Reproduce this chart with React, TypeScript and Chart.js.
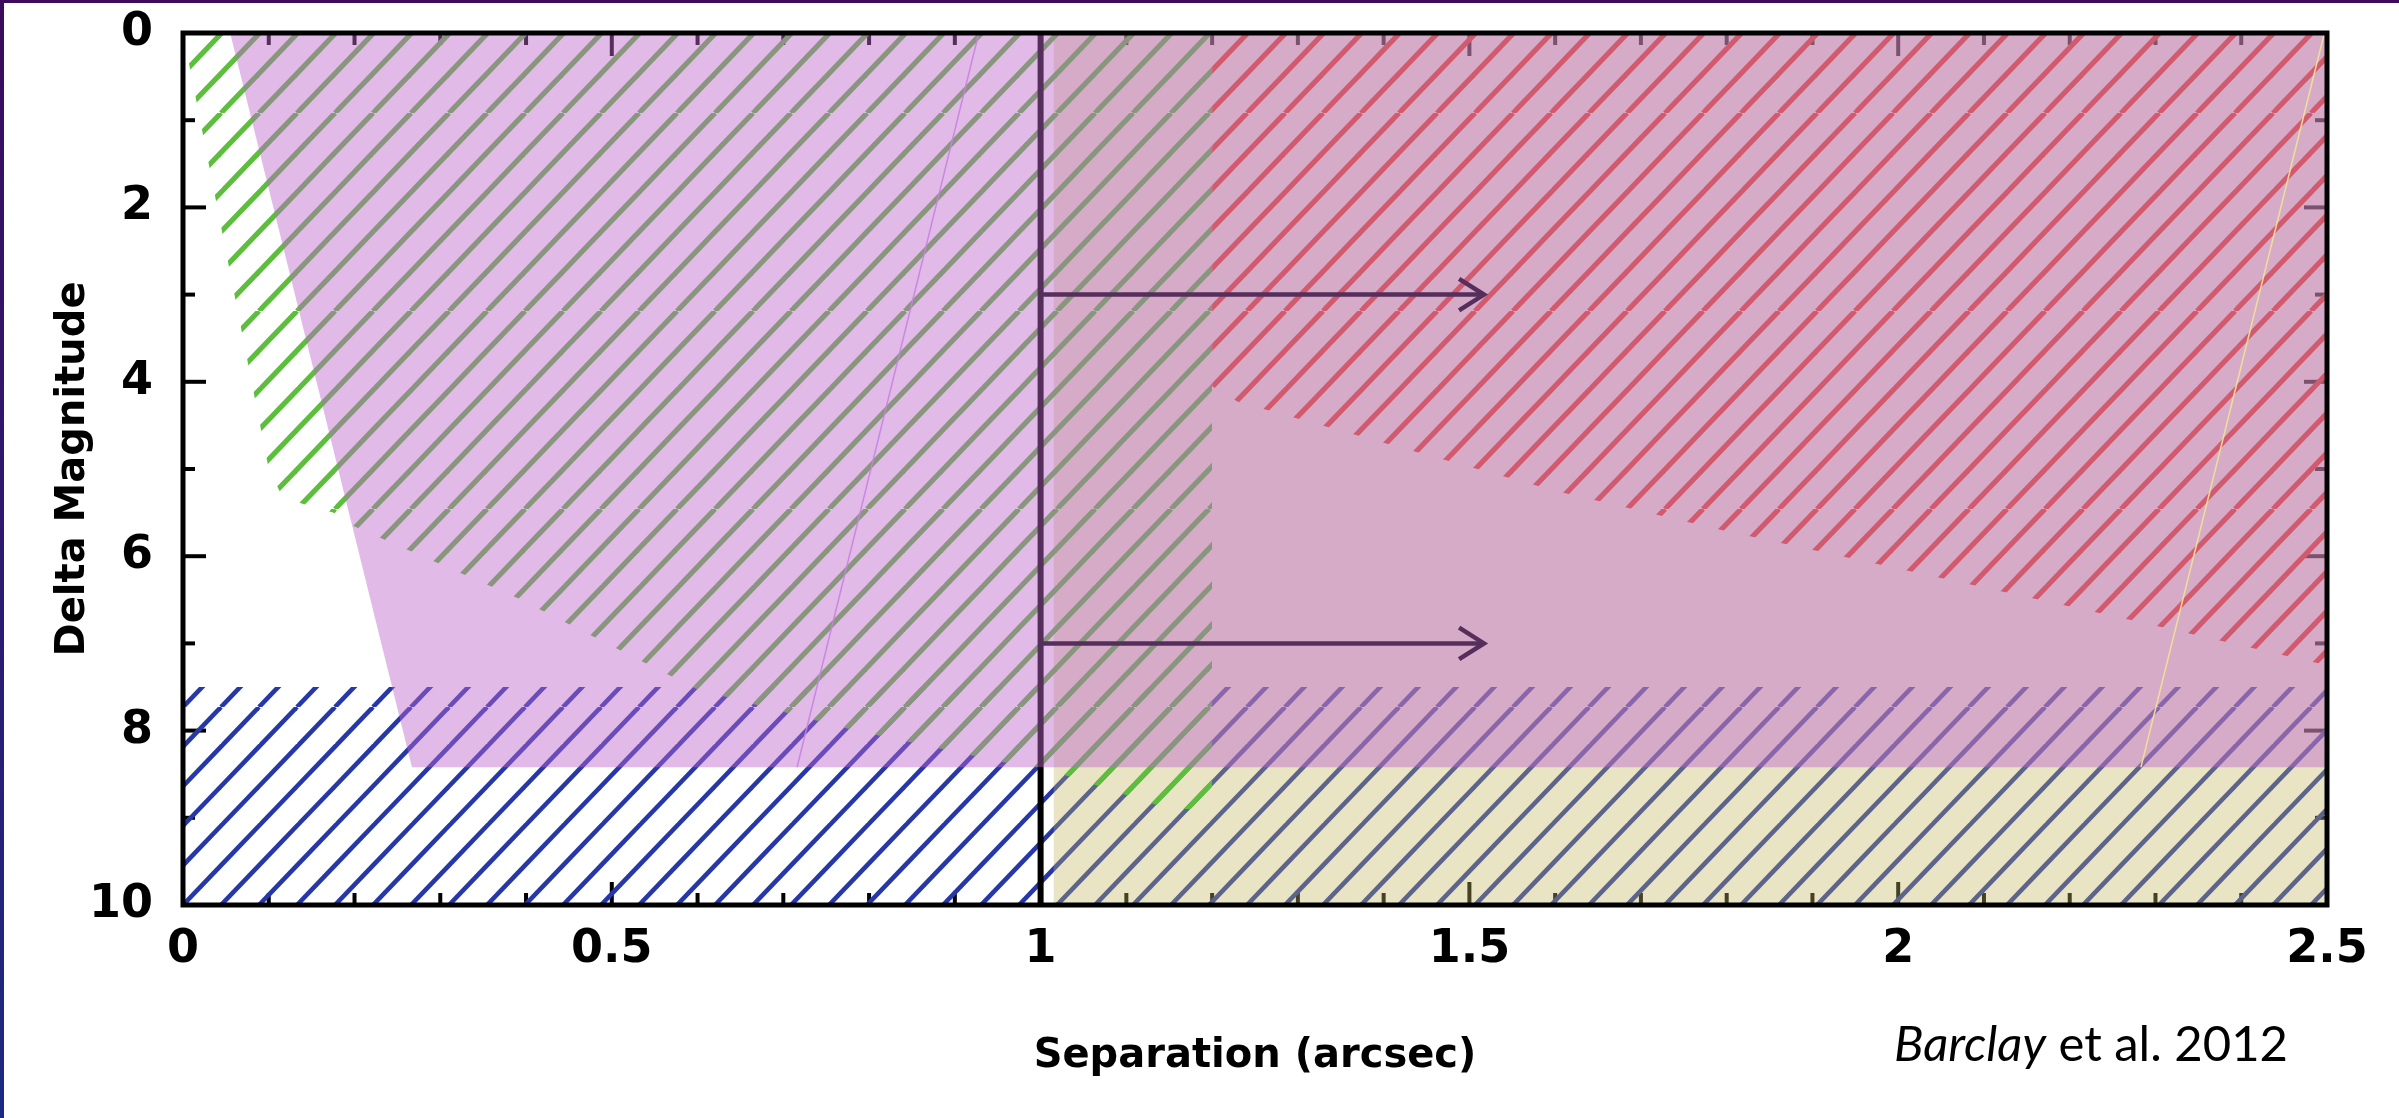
import React, { useEffect, useRef } from "react";
import { Chart, registerables } from "chart.js";

Chart.register(...registerables);

// ---- axes ----
const X_MIN = 0;
const X_MAX = 2.5;
const Y_MIN = 0;
const Y_MAX = 10;
const X_MAJOR_STEP = 0.5;
const Y_MAJOR_STEP = 2;
const X_MINOR_TICKS = [0, 0.1, 0.2, 0.3, 0.4, 0.5, 0.6, 0.7, 0.8, 0.9, 1, 1.1, 1.2, 1.3, 1.4, 1.5, 1.6, 1.7, 1.8, 1.9, 2, 2.1, 2.2, 2.3, 2.4, 2.5];
const Y_MINOR_TICKS = [0, 1, 2, 3, 4, 5, 6, 7, 8, 9, 10];
const X_TITLE = "Separation (arcsec)";
const Y_TITLE = "Delta Magnitude";

// ---- regions (x = separation, y = delta magnitude) ----
// blue hatched: from this edge down to y = 10
const blueX = [0, 2.5];
const blueY = [7.5, 7.5];
// yellow band: from this edge down to y = 10
const yellowX = [1.015, 2.5];
const yellowY = [0, 0];
// green hatched: from y = 0 down to this edge
const greenX = [0, 0.1, 0.115, 0.14, 0.175, 0.2, 0.39, 0.57, 0.6, 0.78, 0.96, 1.0, 1.15, 1.2];
const greenY = [0, 5.0, 5.3, 5.4, 5.5, 5.66, 6.48, 7.38, 7.53, 7.99, 8.37, 8.42, 8.9, 8.9];
// red hatched: from y = 0 down to this edge
const redX = [1.2, 1.23, 1.4, 1.6, 1.794, 2.05, 2.27, 2.5];
const redY = [4.05, 4.23, 4.7, 5.25, 5.7, 6.25, 6.73, 7.25];
// violet shading: from y = 0 down to this edge
const violetX = [0.055, 0.267, 2.5];
const violetY = [0, 8.42, 8.42];
// vertical limit at 1 arcsec
const limitX = [1, 1];
const limitY = [0, 10];
// arrows
const arrowLevels = [3, 7];
const arrowShaftX = [1, 1.517];
const arrowHeadX = [1.488, 1.517, 1.488];
const arrowHeadDY = [-0.18, 0, 0.18];
// thin edge lines
const purpleEdgeX = [0.928, 0.716];
const purpleEdgeY = [0, 8.42];
const orangeEdgeX = [2.497, 2.283];
const orangeEdgeY = [0, 8.42];

const pts = (xs: number[], ys: number[]) => xs.map((x, i) => ({ x, y: ys[i] }));

function makeHatch(color: string, width: number): CanvasPattern {
  const h = 38;
  const v = 39.6;
  const reps = 5;
  const c = document.createElement("canvas");
  c.width = h;
  c.height = Math.round(v * reps);
  const g = c.getContext("2d")!;
  g.strokeStyle = color;
  g.lineWidth = width;
  for (let n = -2; n <= reps + 3; n++) {
    g.beginPath();
    g.moveTo(h * n, 0);
    g.lineTo(h * (n - reps), c.height);
    g.stroke();
  }
  return g.createPattern(c, "repeat")!;
}

const TICK_FONT = { family: "DejaVu Sans", size: 46, weight: "bold" as const };
const TITLE_FONT = { family: "DejaVu Sans", size: 40, weight: "bold" as const };

export default function App() {
  const ref = useRef<HTMLCanvasElement | null>(null);

  useEffect(() => {
    const canvas = ref.current!;
    const blueHatch = makeHatch("rgb(38,56,168)", 4.6);
    const greenHatch = makeHatch("rgb(92,190,60)", 5.2);
    const redHatch = makeHatch("rgb(226,80,33)", 5.2);
    const patterns = [blueHatch, greenHatch, redHatch];

    const area = (data: any[], color: any, fill: any, order: number) => ({
      data,
      backgroundColor: color,
      borderColor: "rgba(0,0,0,0)",
      borderWidth: 0,
      pointRadius: 0,
      fill,
      order,
    });
    const stroke = (data: any[], color: string, width: number, order: number) => ({
      data,
      borderColor: color,
      borderWidth: width,
      pointRadius: 0,
      fill: false,
      order,
      borderCapStyle: "butt" as const,
      borderJoinStyle: "miter" as const,
    });

    const datasets: any[] = [
      area(pts(blueX, blueY), blueHatch, { value: Y_MAX }, 10),
      area(pts(yellowX, yellowY), "rgba(191,180,91,0.36)", { value: Y_MAX }, 9),
      area(pts(greenX, greenY), greenHatch, { value: Y_MIN }, 8),
      area(pts(redX, redY), redHatch, { value: Y_MIN }, 7),
      stroke(pts(limitX, limitY), "#000", 6, 6),
      ...arrowLevels.map((lv) => stroke(pts(arrowShaftX, arrowShaftX.map(() => lv)), "#000", 4.5, 6)),
      ...arrowLevels.map((lv) => stroke(pts(arrowHeadX, arrowHeadDY.map((d) => lv + d)), "#000", 4.5, 6)),
      area(pts(violetX, violetY), "rgba(191,102,204,0.45)", { value: Y_MIN }, 5),
      stroke(pts(purpleEdgeX, purpleEdgeY), "rgba(200,130,225,0.9)", 1.5, 4),
      stroke(pts(orangeEdgeX, orangeEdgeY), "rgba(240,225,150,0.95)", 1.5, 4),
    ];

    const decor = {
      id: "decor",
      beforeDatasetsDraw(chart: any) {
        const { ctx, chartArea: a, scales } = chart;
        const m = new DOMMatrix([1, 0, 0, 1, a.left, a.bottom]);
        patterns.forEach((p) => p.setTransform(m));
        ctx.save();
        ctx.strokeStyle = "#000";
        ctx.lineWidth = 4;
        const seg = (x1: number, y1: number, x2: number, y2: number) => {
          ctx.beginPath();
          ctx.moveTo(x1, y1);
          ctx.lineTo(x2, y2);
          ctx.stroke();
        };
        X_MINOR_TICKS.forEach((v) => {
          const px = scales.x.getPixelForValue(v);
          const major = Math.abs(v / X_MAJOR_STEP - Math.round(v / X_MAJOR_STEP)) < 1e-6;
          const len = major ? 23 : 12;
          seg(px, a.bottom, px, a.bottom - len);
          seg(px, a.top, px, a.top + len);
        });
        Y_MINOR_TICKS.forEach((v) => {
          const py = scales.y.getPixelForValue(v);
          const major = v % Y_MAJOR_STEP === 0;
          const len = major ? 23 : 12;
          seg(a.left, py, a.left + len, py);
          seg(a.right, py, a.right - len, py);
        });
        ctx.restore();
      },
      afterDatasetsDraw(chart: any) {
        const { ctx, chartArea: a } = chart;
        ctx.save();
        ctx.strokeStyle = "#000";
        ctx.lineWidth = 5;
        ctx.strokeRect(a.left, a.top, a.right - a.left, a.bottom - a.top);
        ctx.restore();
      },
    };

    const chart = new Chart(canvas, {
      type: "line",
      data: { datasets },
      plugins: [decor],
      options: {
        animation: false,
        responsive: false,
        events: [],
        layout: { padding: { top: 33, right: 72, bottom: 0, left: 0 } },
        plugins: { legend: { display: false }, tooltip: { enabled: false } },
        elements: { line: { tension: 0 }, point: { radius: 0 } },
        scales: {
          x: {
            type: "linear",
            min: X_MIN,
            max: X_MAX,
            grid: { display: false, drawTicks: false },
            border: { display: false },
            ticks: {
              stepSize: X_MAJOR_STEP,
              font: TICK_FONT,
              color: "#000",
              padding: 17,
              maxRotation: 0,
              autoSkip: false,
              callback: (v: any) => String(Number(v)),
            },
            title: { display: true, text: X_TITLE, font: TITLE_FONT, color: "#000", padding: { top: 0, bottom: 37 } },
            afterFit: (s: any) => {
              s.height = 213;
              s.paddingLeft = 0;
              s.paddingRight = 0;
            },
          },
          y: {
            type: "linear",
            reverse: true,
            min: Y_MIN,
            max: Y_MAX,
            grid: { display: false, drawTicks: false },
            border: { display: false },
            ticks: { stepSize: Y_MAJOR_STEP, font: TICK_FONT, color: "#000", padding: 30 },
            title: { display: true, text: Y_TITLE, font: TITLE_FONT, color: "#000", padding: { top: 50, bottom: 0 } },
            afterFit: (s: any) => {
              s.width = 183;
              s.paddingTop = 0;
              s.paddingBottom = 0;
            },
          },
        },
      } as any,
    });
    return () => chart.destroy();
  }, []);

  return (
    <div style={{ position: "fixed", left: 0, top: 0, width: 2399, height: 1118, background: "#fff", overflow: "hidden" }}>
      <canvas ref={ref} width={2399} height={1118} style={{ position: "absolute", left: 0, top: 0, display: "block" }} />
      <div style={{ position: "absolute", left: 0, top: 0, width: 2399, height: 3, background: "#3c0b5c" }} />
      <div style={{ position: "absolute", left: 0, top: 0, width: 4, height: 1118, background: "linear-gradient(#3c0b5c, #1d2a82)" }} />
      <div
        style={{
          position: "absolute",
          left: 1894,
          top: 1014,
          fontFamily: "Lato, 'Open Sans', sans-serif",
          fontSize: 49,
          lineHeight: "56px",
          color: "#000",
          whiteSpace: "nowrap",
        }}
      >
        <i>Barclay</i> et al. 2012
      </div>
    </div>
  );
}
